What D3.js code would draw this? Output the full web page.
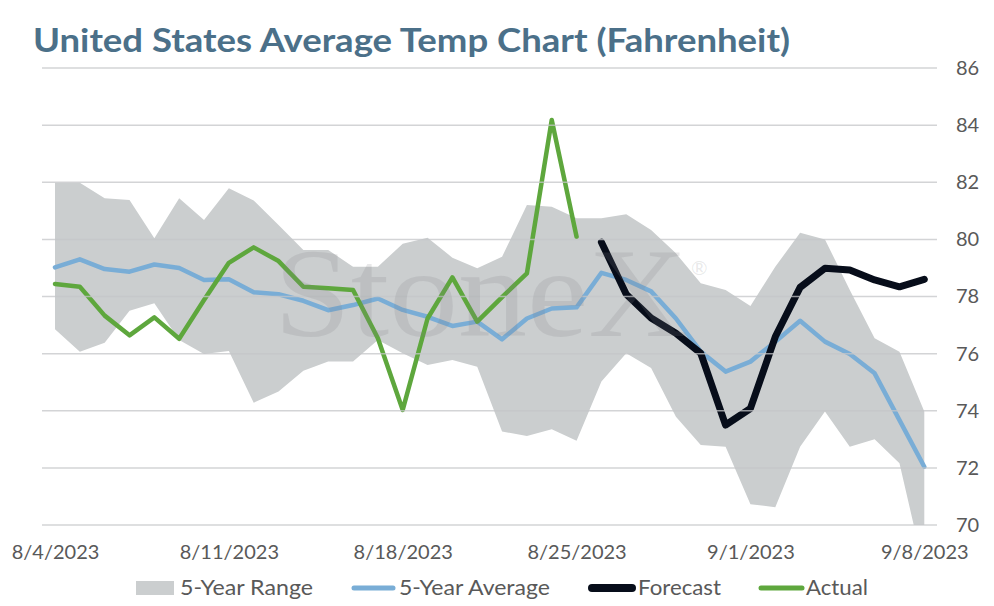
<!DOCTYPE html>
<html>
<head>
<meta charset="utf-8">
<script src="https://cdn.jsdelivr.net/npm/d3@7"></script>
<style>
  html, body { margin: 0; padding: 0; background: #fff; }
  svg { display: block; font-family: Lato, "Noto Sans", sans-serif; }
</style>
</head>
<body>
<svg id="chart" width="994" height="606"></svg>
<script>
// ---- data ----
const startDate = "2023-08-04";
const endDate = "2023-09-08";
const tickDates = ["2023-08-04", "2023-08-11", "2023-08-18", "2023-08-25", "2023-09-01", "2023-09-08"];
const tickLabels = ["8/4/2023", "8/11/2023", "8/18/2023", "8/25/2023", "9/1/2023", "9/8/2023"];
const yTicks = [70, 72, 74, 76, 78, 80, 82, 84, 86];

const rangeHigh = [81.98, 81.98, 81.44, 81.38, 80.04, 81.44, 80.68, 81.79, 81.36, 80.50, 79.63, 79.63,
  79.04, 79.04, 79.85, 80.06, 79.36, 78.99, 79.39, 81.20, 81.14, 80.74, 80.74, 80.88,
  80.33, 79.51, 78.46, 78.23, 77.67, 79.04, 80.23, 80.00, 78.23, 76.54, 76.07, 73.97];
const rangeLow = [76.85, 76.07, 76.38, 77.50, 77.76, 76.48, 75.99, 76.09, 74.28, 74.67, 75.40, 75.72,
  75.72, 76.48, 76.01, 75.60, 75.78, 75.54, 73.27, 73.12, 73.35, 72.95, 75.02, 76.01,
  75.50, 73.79, 72.80, 72.74, 70.73, 70.62, 72.74, 73.97, 72.74, 73.00, 72.16, 68.40];
const avg5 = [79.02, 79.30, 78.96, 78.87, 79.12, 79.00, 78.58, 78.60, 78.15, 78.08, 77.85, 77.52,
  77.70, 77.93, 77.53, 77.29, 76.97, 77.12, 76.50, 77.23, 77.58, 77.62, 78.83, 78.58,
  78.18, 77.23, 76.07, 75.37, 75.72, 76.42, 77.15, 76.42, 75.99, 75.31, 73.67, 72.04];
const actual = [78.44, 78.34, 77.33, 76.64, 77.27, 76.52, 77.88, 79.18, 79.72, 79.24, 78.34, 78.29,
  78.23, 76.54, 74.03, 77.23, 78.67, 77.12, 77.98, 78.81, 84.18, 80.09,
  null, null, null, null, null, null, null, null, null, null, null, null, null, null];
const forecast = [null, null, null, null, null, null, null, null, null, null, null, null,
  null, null, null, null, null, null, null, null, null, null,
  79.90, 78.08, 77.25, 76.71, 76.01, 73.50, 74.08, 76.59, 78.32, 78.99, 78.93, 78.58, 78.34, 78.60];

const legendItems = ["5-Year Range", "5-Year Average", "Forecast", "Actual"];

// ---- build ----
const parse = d3.utcParse("%Y-%m-%d");
const days = d3.utcDay.range(parse(startDate), d3.utcDay.offset(parse(endDate), 1));
const rows = days.map((d, i) => ({
  date: d, hi: rangeHigh[i], lo: rangeLow[i], avg: avg5[i], act: actual[i], fc: forecast[i]
}));

const svg = d3.select("#chart");
const x = d3.scaleUtc().domain([parse(startDate), parse(endDate)]).range([55, 924.3]);
const y = d3.scaleLinear().domain([70, 86]).range([525, 68]);

const colors = {
  band: "#cbcecf", avg: "#79add6", fc: "#070d1a", act: "#5ea73d",
  grid: "#d9d9d9", text: "#595959", title: "#4b7089"
};

svg.append("defs").append("clipPath").attr("id", "plotClip")
  .append("rect").attr("x", 30).attr("y", y(86)).attr("width", 920).attr("height", y(70) - y(86));

// Title
svg.append("text")
  .attr("x", 33).attr("y", 52)
  .attr("font-size", 32).attr("font-weight", 700)
  .attr("fill", colors.title)
  .attr("textLength", 757).attr("lengthAdjust", "spacingAndGlyphs")
  .text("United States Average Temp Chart (Fahrenheit)");

const plot = svg.append("g").attr("clip-path", "url(#plotClip)");

// band
plot.append("path").datum(rows)
  .attr("fill", colors.band)
  .attr("d", d3.area().x(d => x(d.date)).y0(d => y(d.lo)).y1(d => y(d.hi)));

// grid
svg.append("g").selectAll("line").data(yTicks).join("line")
  .attr("x1", 42).attr("x2", 937)
  .attr("y1", d => y(d)).attr("y2", d => y(d))
  .attr("stroke", "#c4c6c8")
  .attr("stroke-opacity", 0.75)
  .attr("stroke-width", 1.5);

// watermark
const wm = svg.append("g").attr("fill", "#7d8083").attr("fill-opacity", 0.18)
  .attr("font-family", "'Liberation Serif', 'DejaVu Serif', serif");
wm.append("text").attr("x", 274).attr("y", 336).attr("font-size", 126)
  .attr("textLength", 414).attr("lengthAdjust", "spacingAndGlyphs").text("StoneX");
wm.append("text").attr("x", 691).attr("y", 275).attr("font-size", 20)
  .attr("font-family", "Lato, sans-serif").text("®");

// lines
const lineGen = key => d3.line().defined(d => d[key] != null).x(d => x(d.date)).y(d => y(d[key]));

plot.append("path").datum(rows)
  .attr("fill", "none").attr("stroke", colors.avg).attr("stroke-width", 4.5)
  .attr("stroke-linejoin", "round").attr("stroke-linecap", "round")
  .attr("d", lineGen("avg"));

plot.append("path").datum(rows)
  .attr("fill", "none").attr("stroke", colors.act).attr("stroke-width", 4.5)
  .attr("stroke-linejoin", "round").attr("stroke-linecap", "round")
  .attr("d", lineGen("act"));

plot.append("path").datum(rows.filter(d => d.fc != null))
  .attr("fill", "none").attr("stroke", colors.fc).attr("stroke-width", 7)
  .attr("stroke-linejoin", "round").attr("stroke-linecap", "round")
  .attr("d", lineGen("fc"));

// right axis
const yAxis = svg.append("g").attr("transform", "translate(945,0)")
  .call(d3.axisRight(y).tickValues(yTicks).tickSize(0).tickPadding(11));
yAxis.select(".domain").remove();
yAxis.selectAll("text").attr("font-size", 20).attr("fill", colors.text)
  .attr("font-family", "Lato, sans-serif");

// bottom axis
const xAxis = svg.append("g").attr("transform", "translate(0,537)")
  .call(d3.axisBottom(x).tickValues(tickDates.map(parse)).tickSize(0).tickPadding(8)
    .tickFormat((d, i) => tickLabels[i]));
xAxis.select(".domain").remove();
xAxis.selectAll("text").attr("font-size", 20).attr("fill", colors.text)
  .attr("font-family", "Lato, sans-serif");

// legend
const lg = svg.append("g").attr("font-size", 21).attr("fill", colors.text);
const ly = 588;
lg.append("rect").attr("x", 136).attr("y", ly - 7).attr("width", 38).attr("height", 14).attr("fill", colors.band);
lg.append("text").attr("x", 180).attr("y", ly + 7).attr("textLength", 133).attr("lengthAdjust", "spacingAndGlyphs").text(legendItems[0]);
lg.append("line").attr("x1", 354).attr("x2", 393).attr("y1", ly).attr("y2", ly)
  .attr("stroke", colors.avg).attr("stroke-width", 5).attr("stroke-linecap", "round");
lg.append("text").attr("x", 399).attr("y", ly + 7).attr("textLength", 151).attr("lengthAdjust", "spacingAndGlyphs").text(legendItems[1]);
lg.append("line").attr("x1", 592).attr("x2", 632).attr("y1", ly).attr("y2", ly)
  .attr("stroke", colors.fc).attr("stroke-width", 8).attr("stroke-linecap", "round");
lg.append("text").attr("x", 638).attr("y", ly + 7).attr("textLength", 83).attr("lengthAdjust", "spacingAndGlyphs").text(legendItems[2]);
lg.append("line").attr("x1", 761).attr("x2", 802).attr("y1", ly).attr("y2", ly)
  .attr("stroke", colors.act).attr("stroke-width", 5).attr("stroke-linecap", "round");
lg.append("text").attr("x", 806).attr("y", ly + 7).attr("textLength", 62).attr("lengthAdjust", "spacingAndGlyphs").text(legendItems[3]);
</script>
</body>
</html>
